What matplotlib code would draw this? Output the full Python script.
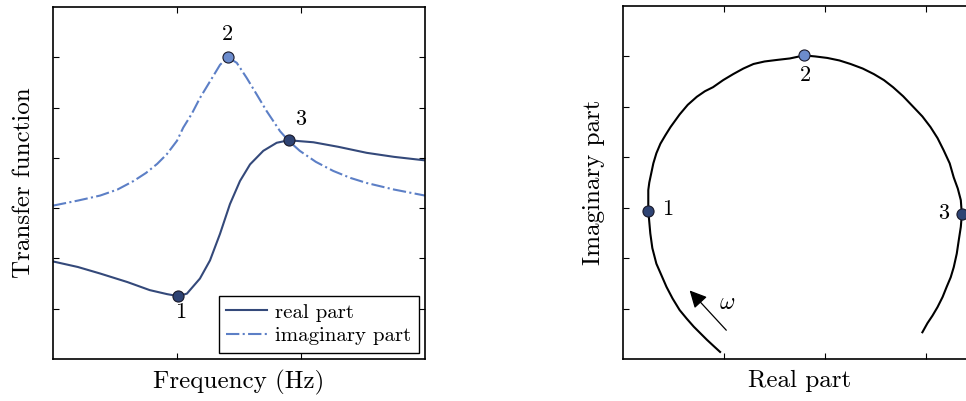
import matplotlib
matplotlib.use('Agg')
import matplotlib.pyplot as plt

plt.rcParams['font.family'] = 'serif'
plt.rcParams['font.serif'] = ['cmr10']
plt.rcParams['mathtext.fontset'] = 'cm'
plt.rcParams['axes.formatter.use_mathtext'] = True

# 左图: 传递函数 (频率, 实部/虚部)
freq_re = [0.0, 0.2, 0.38, 0.6, 0.78, 0.92, 1.01, 1.08, 1.185, 1.266, 1.347, 1.427,
           1.508, 1.589, 1.696, 1.804, 1.90, 2.1, 2.3, 2.53, 2.75, 3.0]
real_part = [1.94, 1.83, 1.70, 1.53, 1.37, 1.29, 1.25, 1.30, 1.60, 1.96, 2.49, 3.08,
             3.54, 3.87, 4.14, 4.30, 4.35, 4.31, 4.22, 4.10, 4.02, 3.95]
freq_im = [0.0, 0.2, 0.38, 0.52, 0.65, 0.75, 0.84, 0.917, 1.0, 1.05, 1.12, 1.185,
           1.266, 1.347, 1.409, 1.482, 1.562, 1.643, 1.723, 1.831, 1.90, 1.99,
           2.12, 2.26, 2.40, 2.53, 2.75, 3.0]
imag_part = [3.05, 3.15, 3.25, 3.37, 3.54, 3.70, 3.88, 4.07, 4.34, 4.60, 4.88, 5.19,
             5.52, 5.85, 6.0, 5.89, 5.59, 5.26, 4.93, 4.53, 4.34, 4.14,
             3.92, 3.74, 3.60, 3.50, 3.37, 3.25]
pts_freq = [1.01, 1.41, 1.90]
pts_val = [1.25, 6.0, 4.35]

# 右图: 奈奎斯特图 (实部, 虚部)
nyq_re = [0.96, 0.90, 0.83, 0.76, 0.70, 0.63, 0.56, 0.49, 0.43, 0.38, 0.33, 0.29,
          0.27, 0.25, 0.25, 0.26, 0.28, 0.30, 0.33, 0.37, 0.42, 0.47, 0.56, 0.64,
          0.73, 0.81, 0.89, 0.99, 1.09, 1.19, 1.29, 1.40, 1.52, 1.65, 1.79, 1.90,
          2.02, 2.14, 2.25, 2.37, 2.48, 2.58, 2.67, 2.77, 2.87, 2.96, 3.04, 3.11,
          3.17, 3.23, 3.27, 3.31, 3.34, 3.35, 3.34, 3.32, 3.30, 3.27, 3.24, 3.20,
          3.16, 3.11, 3.06, 3.01, 2.96]
nyq_im = [0.14, 0.25, 0.38, 0.52, 0.64, 0.80, 0.97, 1.20, 1.43, 1.66, 1.89, 2.20,
          2.49, 2.94, 3.35, 3.50, 3.69, 3.88, 4.08, 4.27, 4.44, 4.60, 4.85, 5.04,
          5.20, 5.31, 5.39, 5.53, 5.65, 5.76, 5.85, 5.90, 5.93, 5.96, 6.02, 6.00,
          5.97, 5.92, 5.85, 5.76, 5.65, 5.53, 5.39, 5.21, 5.00, 4.81, 4.60, 4.38,
          4.14, 3.88, 3.60, 3.38, 3.15, 2.87, 2.62, 2.36, 2.09, 1.82, 1.62, 1.43,
          1.23, 1.03, 0.86, 0.71, 0.53]
nyq_pts_re = [0.25, 1.79, 3.35]
nyq_pts_im = [2.94, 6.02, 2.87]

dark = '#34497a'
light = '#5c7fc6'
pt_dark = '#2e4373'
pt_light = '#6c8ccd'

fig = plt.figure(figsize=(9.66, 4.01), dpi=100)
W, H = 966.0, 401.0
ax1 = fig.add_axes([53 / W, 1 - 359 / H, 372 / W, 352 / H])
ax2 = fig.add_axes([623 / W, 1 - 359 / H, 354 / W, 353 / H])

# 1. 传递函数
ax1.plot(freq_re, real_part, color=dark, lw=1.5, label='real part')
ax1.plot(freq_im, imag_part, color=light, lw=1.5, ls='-.', label='imaginary part')
ax1.plot(pts_freq[0], pts_val[0], 'o', ms=8, mfc=pt_dark, mec='#1a1a2a', mew=0.8)
ax1.plot(pts_freq[1], pts_val[1], 'o', ms=8, mfc=pt_light, mec='#1a1a2a', mew=0.8)
ax1.plot(pts_freq[2], pts_val[2], 'o', ms=8, mfc=pt_dark, mec='#1a1a2a', mew=0.8)
ax1.text(1.03, 0.93, '1', fontsize=16, ha='center', va='center')
ax1.text(1.41, 6.45, '2', fontsize=16, ha='center', va='center')
ax1.text(2.0, 4.77, '3', fontsize=16, ha='center', va='center')
ax1.set_xlim(0, 3)
ax1.set_ylim(0, 7)
ax1.set_xticks([1, 2])
ax1.set_yticks([1, 2, 3, 4, 5, 6])
ax1.set_xlabel('Frequency (Hz)', fontsize=18)
ax1.set_ylabel('Transfer function', fontsize=18)
leg = ax1.legend(loc='lower right', fontsize=15, fancybox=False, edgecolor='black',
                 framealpha=1, borderaxespad=0.3, handlelength=1.95,
                 borderpad=0.35, labelspacing=0.25, handletextpad=0.4)
leg.get_frame().set_linewidth(1.0)

# 2. 奈奎斯特图
ax2.plot(nyq_re, nyq_im, color='black', lw=1.5)
ax2.plot(nyq_pts_re[0], nyq_pts_im[0], 'o', ms=8, mfc=pt_dark, mec='#1a1a2a', mew=0.8)
ax2.plot(nyq_pts_re[1], nyq_pts_im[1], 'o', ms=8, mfc=pt_light, mec='#1a1a2a', mew=0.8)
ax2.plot(nyq_pts_re[2], nyq_pts_im[2], 'o', ms=8, mfc=pt_dark, mec='#1a1a2a', mew=0.8)
ax2.text(0.44, 2.97, '1', fontsize=16, ha='center', va='center')
ax2.text(1.80, 5.62, '2', fontsize=16, ha='center', va='center')
ax2.text(3.17, 2.90, '3', fontsize=16, ha='center', va='center')
ax2.annotate('', xy=(0.64, 1.40), xytext=(1.04, 0.53),
             arrowprops=dict(arrowstyle='-|>', color='black', lw=0.9,
                             mutation_scale=26))
ax2.text(1.03, 1.12, r'$\omega$', fontsize=17, ha='center', va='center')
ax2.set_xlim(0, 3.5)
ax2.set_ylim(0, 7)
ax2.set_xticks([1, 2, 3])
ax2.set_yticks([1, 2, 3, 4, 5, 6])
ax2.set_xlabel('Real part', fontsize=18)
ax2.set_ylabel('Imaginary part', fontsize=18)

for ax in (ax1, ax2):
    ax.tick_params(direction='in', length=4, width=0.8, top=True, right=True,
                   labelbottom=False, labelleft=False)
    for s in ax.spines.values():
        s.set_linewidth(1.2)
    ax.xaxis.labelpad = 8
    ax.yaxis.labelpad = 13

plt.savefig('out.png', dpi=100)
plt.close()
